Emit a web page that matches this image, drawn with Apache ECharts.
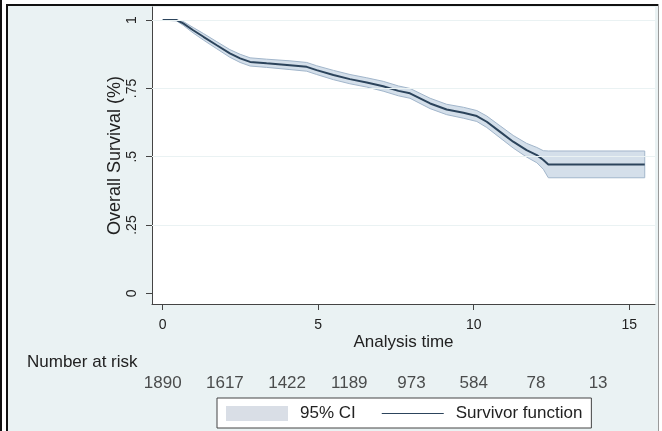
<!DOCTYPE html>
<html>
<head>
<meta charset="utf-8">
<script src="https://cdn.jsdelivr.net/npm/echarts@6/dist/echarts.min.js"></script>
<style>
  html, body { margin: 0; padding: 0; background: #fff; }
  #chart { width: 662px; height: 431px; }
</style>
</head>
<body>
<div id="chart"></div>
<script>
// Kaplan-Meier estimate: analysis time (years), survivor function and 95% CI
const timeYears = [0, 0.45, 0.66, 0.98, 1.31, 1.74, 2.16, 2.49, 2.81, 3.34, 4.09, 4.63, 4.95, 5.49, 6.02, 6.56, 7.09, 7.58, 7.95, 8.60, 9.13, 9.67, 10.10, 10.42, 10.85, 11.27, 11.70, 12.03, 12.24, 12.40, 15.5];
const survival  = [1, 1, 0.988, 0.963, 0.939, 0.908, 0.878, 0.860, 0.847, 0.842, 0.835, 0.829, 0.817, 0.799, 0.784, 0.772, 0.758, 0.741, 0.732, 0.695, 0.673, 0.661, 0.649, 0.628, 0.591, 0.555, 0.524, 0.506, 0.488, 0.472, 0.472];
const ciUpper   = [1, 1, 0.995, 0.973, 0.951, 0.921, 0.892, 0.875, 0.862, 0.857, 0.851, 0.845, 0.833, 0.816, 0.801, 0.789, 0.776, 0.759, 0.750, 0.714, 0.692, 0.681, 0.669, 0.649, 0.613, 0.578, 0.549, 0.534, 0.522, 0.521, 0.521];
const ciLower   = [1, 0.997, 0.981, 0.953, 0.927, 0.895, 0.864, 0.845, 0.832, 0.827, 0.819, 0.813, 0.801, 0.782, 0.767, 0.755, 0.740, 0.723, 0.714, 0.676, 0.654, 0.641, 0.629, 0.607, 0.569, 0.532, 0.499, 0.478, 0.454, 0.423, 0.423];

// Number at risk table
const riskTimes  = [0, 2, 4, 6, 8, 10, 12, 14];
const riskCounts = [1890, 1617, 1422, 1189, 973, 584, 78, 13];

// Axis ticks and labels
const xTicks = [0, 5, 10, 15];
const yTicks = [0, 0.25, 0.5, 0.75, 1];
const yTickLabels = ['0', '.25', '.5', '.75', '1'];
const gridLevels = [0.25, 0.5, 0.75, 1];

const FONT = '"Liberation Sans", Arial, sans-serif';
const TEXT = '#222';
const AXIS = '#444';
const CURVE = '#2c445c';
const X_MIN = -0.344, X_MAX = 15.83;
const Y_MIN = -0.039, Y_MAX = 1.048;

const chart = echarts.init(document.getElementById('chart'), null, { renderer: 'canvas' });

const option = {
  backgroundColor: '#eaf2f3',
  animation: false,
  textStyle: { fontFamily: FONT },
  grid: [
    { left: 152, right: 7, top: 7, bottom: 127, show: true, backgroundColor: '#ffffff', borderWidth: 0 },
    { left: 152, right: 7, top: 375, height: 16 }
  ],
  xAxis: [
    {
      type: 'value', gridIndex: 0, min: X_MIN, max: X_MAX,
      axisLine: { show: true, onZero: false, lineStyle: { color: AXIS, width: 1 } },
      axisTick: { show: true, customValues: xTicks, length: 6, lineStyle: { color: AXIS } },
      axisLabel: { customValues: xTicks, fontSize: 14, color: TEXT, margin: 14, fontFamily: FONT },
      splitLine: { show: false },
      name: 'Analysis time', nameLocation: 'middle', nameGap: 30, nameMoveOverlap: false,
      nameTextStyle: { fontSize: 17, color: TEXT, fontFamily: FONT }
    },
    { type: 'value', gridIndex: 1, min: X_MIN, max: X_MAX, show: false }
  ],
  yAxis: [
    {
      type: 'value', gridIndex: 0, min: Y_MIN, max: Y_MAX,
      axisLine: { show: true, onZero: false, lineStyle: { color: AXIS, width: 1 } },
      axisTick: { show: true, customValues: yTicks, length: 6, lineStyle: { color: AXIS } },
      axisLabel: {
        customValues: yTicks, rotate: 90, fontSize: 14, color: TEXT, margin: 13, fontFamily: FONT,
        formatter: v => yTickLabels[yTicks.indexOf(v)] ?? ''
      },
      splitLine: { show: false },
      name: 'Overall Survival (%)', nameLocation: 'middle', nameGap: 28, nameMoveOverlap: false,
      nameTextStyle: { fontSize: 18, color: TEXT, fontFamily: FONT }
    },
    { type: 'value', gridIndex: 1, min: -1, max: 1, show: false }
  ],
  legend: {
    left: 217, top: 398, orient: 'horizontal',
    padding: [7, 9, 6, 9], itemGap: 26, itemWidth: 62, itemHeight: 15,
    borderColor: AXIS, borderWidth: 1, borderRadius: 0, backgroundColor: '#ffffff',
    selectedMode: false,
    textStyle: { fontSize: 17, color: TEXT, fontFamily: FONT, padding: [0, 0, 0, 7] },
    data: [
      { name: '95% CI', icon: 'rect', itemStyle: { color: '#d9dee6', borderWidth: 0 } },
      { name: 'Survivor function', icon: 'path://M0 0H62V1H0Z', itemStyle: { color: CURVE, borderWidth: 0 } }
    ]
  },
  series: [
    {
      // horizontal gridlines behind the curve
      type: 'line', name: 'grid', data: [], z: 1, silent: true,
      markLine: {
        silent: true, symbol: ['none', 'none'], animation: false,
        label: { show: false },
        lineStyle: { color: '#eaf2f3', width: 1, type: 'solid' },
        data: gridLevels.map(v => ({ yAxis: v }))
      }
    },
    {
      type: 'custom', name: '95% CI', z: 2,
      xAxisIndex: 0, yAxisIndex: 0,
      data: timeYears.map((t, i) => [t, ciLower[i], ciUpper[i]]),
      encode: { x: 0, y: [1, 2] },
      itemStyle: { color: '#d9dee6' },
      renderItem: (params, api) => {
        if (params.dataIndex !== 0) return null;
        const upper = timeYears.map((t, i) => api.coord([t, ciUpper[i]]));
        const lower = timeYears.map((t, i) => api.coord([t, ciLower[i]])).reverse();
        return {
          type: 'polygon',
          shape: { points: upper.concat(lower) },
          style: { fill: '#d4dfea', stroke: '#a2b6cb', lineWidth: 1 }
        };
      }
    },
    {
      type: 'line', name: 'Survivor function', z: 3,
      xAxisIndex: 0, yAxisIndex: 0,
      data: timeYears.map((t, i) => [t, survival[i]]),
      symbol: 'none', showSymbol: false,
      itemStyle: { color: CURVE },
      lineStyle: { color: CURVE, width: 2 }
    },
    {
      type: 'scatter', name: 'at risk', xAxisIndex: 1, yAxisIndex: 1,
      data: riskTimes.map((t, i) => [t, 0, riskCounts[i]]),
      symbolSize: 1, itemStyle: { color: 'rgba(0,0,0,0)' }, silent: true,
      label: {
        show: true, position: 'inside', formatter: p => String(p.value[2]),
        fontSize: 17, color: TEXT, fontFamily: FONT
      }
    }
  ],
  graphic: [
    { type: 'text', left: 27, top: 354, style: { text: 'Number at risk', fontSize: 17, fill: TEXT, fontFamily: FONT } },
    // outer frame
    { type: 'rect', shape: { x: 0, y: 0, width: 662, height: 4 }, style: { fill: '#fff' }, silent: true },
    { type: 'rect', shape: { x: 0, y: 0, width: 8, height: 431 }, style: { fill: '#fff' }, silent: true },
    { type: 'rect', shape: { x: 0, y: 0, width: 2, height: 431 }, style: { fill: '#111' }, silent: true },
    { type: 'rect', shape: { x: 6, y: 4, width: 2, height: 427 }, style: { fill: '#111' }, silent: true },
    { type: 'rect', shape: { x: 6, y: 4, width: 656, height: 2 }, style: { fill: '#111' }, silent: true },
    { type: 'rect', shape: { x: 658, y: 4, width: 4, height: 427 }, style: { fill: '#fff' }, silent: true },
    { type: 'rect', shape: { x: 658, y: 4, width: 1, height: 427 }, style: { fill: '#9a9a9a' }, silent: true }
  ]
};

chart.setOption(option);
</script>
</body>
</html>
